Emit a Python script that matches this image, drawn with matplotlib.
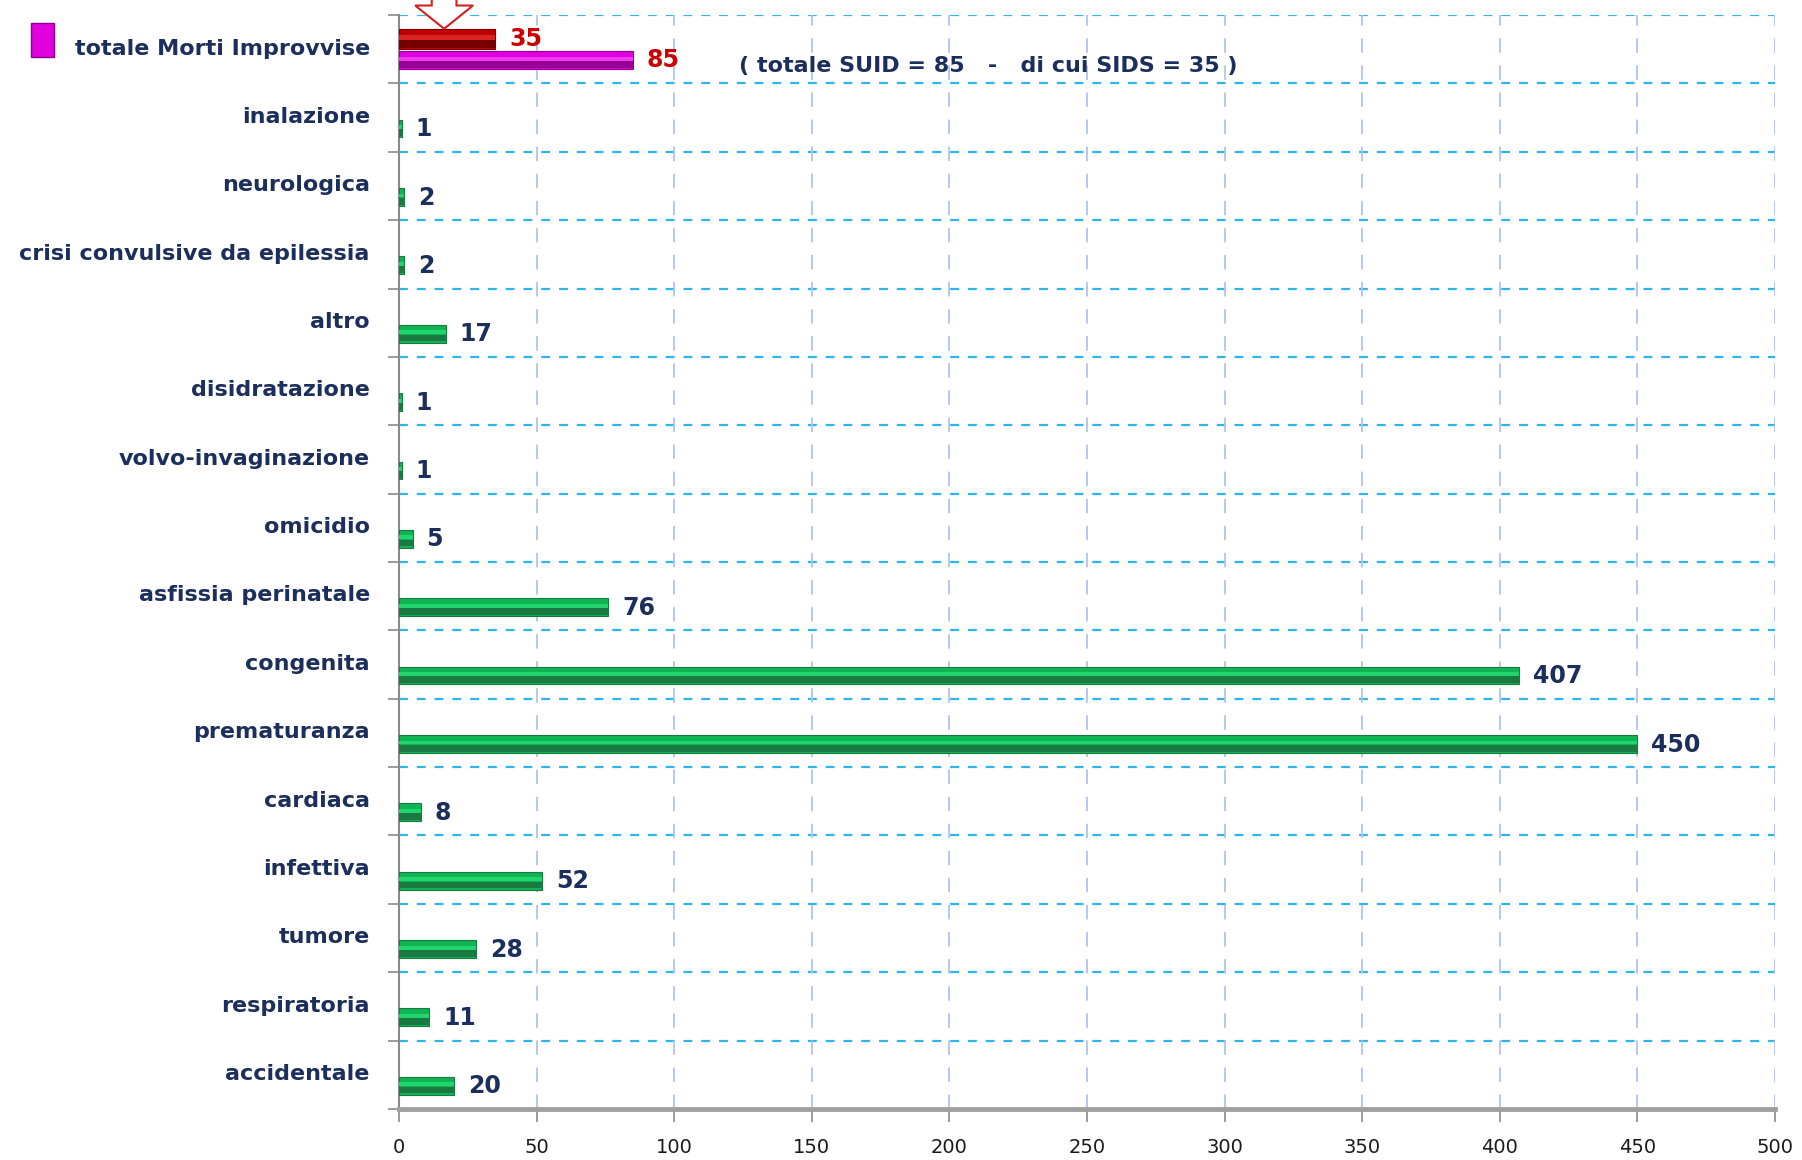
import matplotlib.pyplot as plt
from matplotlib.patches import Rectangle, Polygon
import numpy as np

# categories top to bottom
categories = ['totale Morti Improvvise', 'inalazione', 'neurologica',
              'crisi convulsive da epilessia', 'altro', 'disidratazione',
              'volvo-invaginazione', 'omicidio', 'asfissia perinatale',
              'congenita', 'prematuranza', 'cardiaca', 'infettiva', 'tumore',
              'respiratoria', 'accidentale']
cause_values = [1, 2, 2, 17, 1, 1, 5, 76, 407, 450, 8, 52, 28, 11, 20]
suid_total = 85
sids_total = 35
note = '( totale SUID = 85   -   di cui SIDS = 35 )'
xticks = list(range(0, 501, 50))

NAVY = '#1c2e5c'
plt.rcParams['font.family'] = ['DejaVu Sans']

fig = plt.figure(figsize=(18.02, 11.6), dpi=100)
ax = fig.add_axes([0.2214, 0.044, 0.7636, 0.943])

y = np.arange(len(categories))


def shaded_barh(ax, ypos, w, h, light, mid, dark):
    # cylinder-ish look: base, dark lower half, light highlight
    ax.barh(ypos, w, height=h, color=mid, edgecolor=dark, linewidth=0.8, zorder=3)
    ax.barh(ypos + h * 0.24, w, height=h * 0.38, color=dark, linewidth=0, zorder=4)
    ax.barh(ypos - h * 0.08, w, height=h * 0.22, color=light, linewidth=0, zorder=4)


# green series for causes
for yy, v in zip(y[1:], cause_values):
    shaded_barh(ax, yy + 0.16, v, 0.26, '#22d46e', '#0fb552', '#187a40')
    ax.text(v + 5, yy + 0.17, str(v), va='center', ha='left', fontsize=17,
            fontweight='bold', color=NAVY, zorder=5)

# top category: SIDS (red) above SUID (magenta)
shaded_barh(ax, y[0] - 0.15, sids_total, 0.30, '#d82424', '#c00000', '#780000')
shaded_barh(ax, y[0] + 0.16, suid_total, 0.26, '#f03cf0', '#e000e0', '#960096')
ax.text(sids_total + 5, y[0] - 0.15, str(sids_total), va='center', ha='left',
        fontsize=17, fontweight='bold', color='#cc0000', zorder=5)
ax.text(suid_total + 5, y[0] + 0.16, str(suid_total), va='center', ha='left',
        fontsize=17, fontweight='bold', color='#cc0000', zorder=5)
ax.text(123.5, y[0] + 0.25, note, va='center', ha='left', fontsize=16,
        fontweight='bold', color=NAVY, zorder=5)

# hollow red arrow pointing at SIDS bar
ax_x, tip = 16.4, -0.30
arrow = Polygon([(ax_x - 4.5, -0.75), (ax_x + 4.5, -0.75), (ax_x + 4.5, -0.64),
                 (ax_x + 10.5, -0.64), (ax_x, tip), (ax_x - 10.5, -0.64),
                 (ax_x - 4.5, -0.64)], closed=True, facecolor='white',
                edgecolor='#d42020', linewidth=1.5, clip_on=False, zorder=6)
ax.add_patch(arrow)

ax.set_xlim(0, 500)
ax.set_ylim(len(categories) - 0.5, -0.5)

# grid lines
for b in np.arange(-0.5, len(categories) - 1, 1.0):
    ax.axhline(b, color='#2fb4ee', linestyle=(0, (4, 4)), linewidth=1.6, zorder=1)
for xv in xticks[1:]:
    ax.axvline(xv, color='#b0c4ec', linestyle=(0, (8, 7)), linewidth=1.3, zorder=1)

ax.set_xticks(xticks)
ax.set_xticklabels([str(t) for t in xticks], fontsize=14, color='#1a1a1a')
ax.tick_params(axis='x', length=9, width=1.2, color='#8a8a8a', pad=12)

ax.set_yticks(y - 0.04)
ax.set_yticklabels(categories, fontsize=16, fontweight='bold', color=NAVY)
ax.set_yticks(np.arange(-0.5, len(categories), 1.0), minor=True)
ax.tick_params(axis='y', which='major', length=0, pad=21)
ax.tick_params(axis='y', which='minor', length=8, width=1.2, color='#8a8a8a')

for s in ['top', 'right']:
    ax.spines[s].set_visible(False)
ax.spines['left'].set_color('#8a8a8a')
ax.spines['left'].set_linewidth(1.5)
ax.spines['bottom'].set_color('#a0a0a0')
ax.spines['bottom'].set_linewidth(3.5)

# magenta legend key next to the top label
fig.patches.append(Rectangle((0.0172, 0.951), 0.0128, 0.029, transform=fig.transFigure,
                             facecolor='#e000e0', edgecolor='#8c008c', linewidth=1))

fig.savefig('out.png', dpi=100)
